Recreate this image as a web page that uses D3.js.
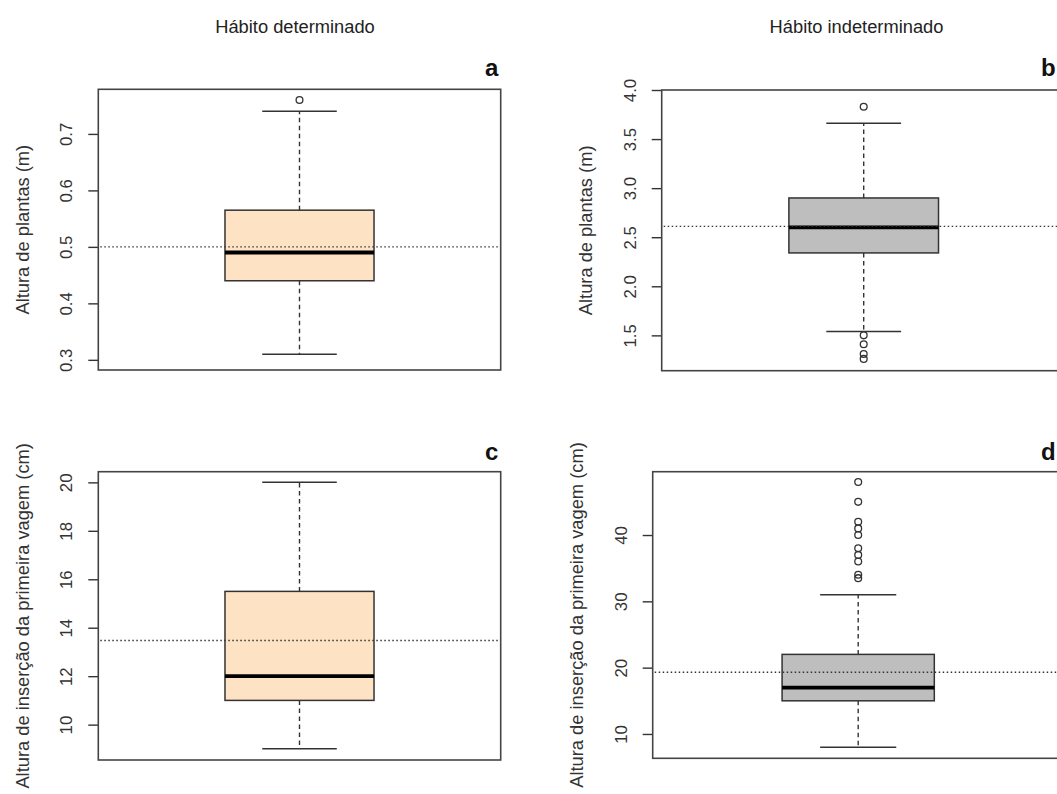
<!DOCTYPE html>
<html>
<head>
<meta charset="utf-8">
<script src="https://cdn.jsdelivr.net/npm/d3@7"></script>
<style>
  html, body { margin: 0; padding: 0; background: #ffffff; }
  svg { display: block; font-family: "Liberation Sans", Arial, sans-serif; }
</style>
</head>
<body>
<svg id="chart" width="1057" height="794"></svg>
<script>
// Panel identifiers and their headings
const panelLetters = ["a", "b", "c", "d"];
const groupTitles = ["Hábito determinado", "Hábito indeterminado"];
const yTitles = [
  "Altura de plantas (m)",
  "Altura de plantas (m)",
  "Altura de inserção da primeira vagem (cm)",
  "Altura de inserção da primeira vagem (cm)"
];

// Boxplot summaries for each panel (a, b, c, d)
const lowerWhisker = [0.31, 1.54, 9, 8];
const firstQuartile = [0.44, 2.34, 11, 15];
const medians = [0.49, 2.6, 12, 17];
const thirdQuartile = [0.565, 2.9, 15.5, 22];
const upperWhisker = [0.74, 3.66, 20, 31];
const means = [0.50, 2.61, 13.47, 19.3];
const outliers = [
  [0.76],
  [3.83, 1.50, 1.41, 1.31, 1.26],
  [],
  [48, 45, 42, 41, 40, 38, 37, 36, 34, 33.5]
];

// Axis extents and tick values
const yDomains = [[0.282, 0.779], [1.14, 4.0], [8.54, 20.44], [6.33, 49.55]];
const tickValues = [
  [0.3, 0.4, 0.5, 0.6, 0.7],
  [1.5, 2.0, 2.5, 3.0, 3.5, 4.0],
  [10, 12, 14, 16, 18, 20],
  [10, 20, 30, 40]
];
const tickFormats = [".1f", ".1f", "d", "d"];
const boxFills = ["#fde3c4", "#bebebe", "#fde3c4", "#bebebe"];

// Plot frames (pixel layout of each panel)
const frames = [
  { left: 98.3, top: 89.3, width: 402.4, height: 280.7 },
  { left: 661.7, top: 90.0, width: 404.0, height: 280.7 },
  { left: 98.3, top: 471.7, width: 402.4, height: 288.3 },
  { left: 652.7, top: 471.7, width: 411.0, height: 286.6 }
];
const letterBaselines = [75.7, 75.7, 460, 460];
const letterX = [485, 1041, 485, 1041];
const titleX = [295, 856.5];

const ink = "#333333";
const svg = d3.select("#chart");

// Column headings
svg.selectAll("text.group-title")
  .data(groupTitles)
  .join("text")
  .attr("class", "group-title")
  .attr("x", (d, i) => titleX[i])
  .attr("y", 32.7)
  .attr("text-anchor", "middle")
  .attr("font-size", 18.3)
  .attr("fill", "#222")
  .text(d => d);

panelLetters.forEach((letter, i) => {
  const f = frames[i];
  const g = svg.append("g").attr("transform", `translate(${f.left},${f.top})`);

  const y = d3.scaleLinear().domain(yDomains[i]).range([f.height, 0]);
  // single category centred in the frame, R-style 4% padding around [0.5, 1.5]
  const x = d3.scaleLinear().domain([0.46, 1.54]).range([0, f.width]);
  const cx = x(1);
  const halfBox = (x(1.2) - x(0.8)) / 2;
  const halfCap = halfBox / 2;

  // box fill + outline
  g.append("rect")
    .attr("x", cx - halfBox)
    .attr("y", y(thirdQuartile[i]))
    .attr("width", halfBox * 2)
    .attr("height", y(firstQuartile[i]) - y(thirdQuartile[i]))
    .attr("fill", boxFills[i])
    .attr("stroke", ink)
    .attr("stroke-width", 1.5);

  // dashed whiskers
  [[thirdQuartile[i], upperWhisker[i]], [firstQuartile[i], lowerWhisker[i]]].forEach(([a, b]) => {
    g.append("line")
      .attr("x1", cx).attr("x2", cx)
      .attr("y1", y(a)).attr("y2", y(b))
      .attr("stroke", ink)
      .attr("stroke-width", 1.4)
      .attr("stroke-dasharray", "4.5,3.5");
  });

  // whisker caps
  [upperWhisker[i], lowerWhisker[i]].forEach(v => {
    g.append("line")
      .attr("x1", cx - halfCap).attr("x2", cx + halfCap)
      .attr("y1", y(v)).attr("y2", y(v))
      .attr("stroke", ink)
      .attr("stroke-width", 1.5);
  });

  // median
  g.append("line")
    .attr("x1", cx - halfBox).attr("x2", cx + halfBox)
    .attr("y1", y(medians[i])).attr("y2", y(medians[i]))
    .attr("stroke", "#000")
    .attr("stroke-width", 3.8);

  // outlying observations
  g.selectAll("circle.out")
    .data(outliers[i])
    .join("circle")
    .attr("class", "out")
    .attr("cx", cx)
    .attr("cy", d => y(d))
    .attr("r", 3.4)
    .attr("fill", "none")
    .attr("stroke", ink)
    .attr("stroke-width", 1.3);

  // overall mean reference line
  g.append("line")
    .attr("x1", 2).attr("x2", f.width - 1)
    .attr("y1", y(means[i])).attr("y2", y(means[i]))
    .attr("stroke", ink)
    .attr("stroke-width", 1.4)
    .attr("stroke-dasharray", "1.5,2.5");

  // left axis: ticks only, labels parallel to the axis
  const axis = d3.axisLeft(y)
    .tickValues(tickValues[i])
    .tickSize(10)
    .tickPadding(0)
    .tickFormat(d3.format(tickFormats[i]));
  const ag = g.append("g").call(axis);
  ag.select(".domain").remove();
  ag.selectAll(".tick line").attr("stroke", ink).attr("stroke-width", 1.4);
  ag.selectAll(".tick text")
    .attr("x", null)
    .attr("text-anchor", "middle")
    .attr("transform", "translate(-32,0) rotate(-90)")
    .attr("dy", "0.36em")
    .attr("font-size", 16.8)
    .attr("font-family", "Liberation Sans, Arial, sans-serif")
    .attr("fill", "#333");

  // plot frame
  g.append("rect")
    .attr("x", 0).attr("y", 0)
    .attr("width", f.width).attr("height", f.height)
    .attr("fill", "none")
    .attr("stroke", "#444")
    .attr("stroke-width", 1.6);

  // axis title
  g.append("text")
    .attr("transform", `translate(-76,${f.height / 2}) rotate(-90)`)
    .attr("text-anchor", "middle")
    .attr("dy", "0.36em")
    .attr("font-size", 18.3)
    .attr("fill", "#333")
    .text(yTitles[i]);

  // panel letter
  svg.append("text")
    .attr("x", letterX[i])
    .attr("y", letterBaselines[i])
    .attr("font-size", 24)
    .attr("font-weight", "bold")
    .attr("fill", "#111")
    .text(letter);
});
</script>
</body>
</html>
